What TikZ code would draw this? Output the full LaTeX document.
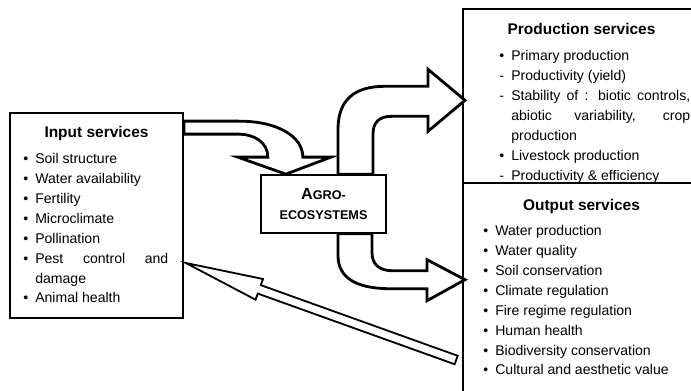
\documentclass[tikz,border=0pt]{standalone}
\usepackage{fontspec}
\setmainfont{Liberation Sans}
\usetikzlibrary{calc}

\newlength{\itemind}
\setlength{\itemind}{3mm}
\newcommand{\svc}[1]{\par\hangindent=\itemind\hangafter=1\noindent\strut\makebox[\itemind][l]{\textbullet}#1}
\newcommand{\svcdash}[1]{\par\hangindent=\itemind\hangafter=1\noindent\strut\makebox[\itemind][l]{-}#1}

\begin{document}
\begin{tikzpicture}[
    x=0.25mm, y=-0.25mm,
    box/.style={rectangle, draw, line width=1.2pt, inner sep=0pt},
    boxtitle/.style={anchor=base, inner sep=0pt, font=\fontsize{11}{13}\selectfont\bfseries},
    listtext/.style={anchor=north west, inner sep=0pt, align=justify,
      font={\fontsize{10}{14.2}\selectfont\hyphenpenalty=10000 \tolerance=10000 }},
    hollow/.style={draw, fill=white, line width=2pt, line join=miter},
    thinhollow/.style={hollow, line width=1.3pt}
  ]
    \useasboundingbox (0,0) rectangle (691,390);

    % boxes
    \node[box, minimum width=43.25mm, minimum height=51.25mm] (input) at (96.5,215.5) {};
    \node[box, minimum width=59.25mm, minimum height=43.5mm] (prod) at (581.5,96) {};
    \node[box, minimum width=59.25mm, minimum height=54.25mm] (output) at (581.5,291.5) {};
    \node[box, line width=1pt, minimum width=31.25mm, minimum height=14.5mm, align=center,
      font={\fontsize{9}{14.2}\selectfont\bfseries}] (agro) at (323.5,204)
      {{\fontsize{11.5}{14.2}\selectfont A}GRO-\\ECOSYSTEMS};

    % input -> agro
    \begin{scope}[shift={(input.north east)}]
      \draw[hollow] (0,9) -- (55,9) .. controls (95,9) and (119,25) .. (119,45)
        -- (147,45) -- (102,62) -- (54,45) -- (84,45)
        .. controls (84,30) and (70,22) .. (55,22) -- (0,22) -- cycle;
    \end{scope}
    % agro -> production
    \begin{scope}[shift={(agro.north)}]
      \draw[hollow] (14.5,0) -- (14.5,-45) .. controls (14.5,-75) and (31.5,-88) .. (61.5,-88)
        -- (104.5,-88) -- (104.5,-105) -- (141.5,-74) -- (104.5,-43) -- (104.5,-58)
        -- (68.5,-58) .. controls (55.5,-58) and (49.5,-52) .. (49.5,-40) -- (49.5,0) -- cycle;
    \end{scope}
    % agro -> output
    \begin{scope}[shift={(agro.south)}]
      \draw[hollow] (14.5,0) -- (14.5,22) .. controls (14.5,45) and (34.5,55) .. (66.5,55)
        -- (103.5,55) -- (103.5,67) -- (141.5,46) -- (103.5,26) -- (103.5,37)
        -- (68.5,37) .. controls (56.5,37) and (48.5,31) .. (48.5,19) -- (48.5,0) -- cycle;
    \end{scope}
    % output -> input (feedback)
    \coordinate (back) at ($(output.west)+(-6,68.5)$);
    \coordinate (front) at ($(input.east)+(2,47.5)$);
    \coordinate (hb) at ($(front)!19.5mm!(back)$);
    \draw[thinhollow] ($(back)!1.125mm!90:(front)$) -- ($(hb)!1.125mm!-90:(back)$)
      -- ($(hb)!2.75mm!-90:(back)$) -- (front) -- ($(hb)!2.75mm!90:(back)$)
      -- ($(hb)!1.125mm!90:(back)$) -- ($(back)!1.125mm!-90:(front)$) -- cycle;

    % texts
    \node[boxtitle] (inputtitle) at (96.5,138) {Input services};
    \node[listtext, text width=36.25mm] (inputlist) at (23,143)
      {\svc{Soil structure}\svc{Water availability}\svc{Fertility}\svc{Microclimate}%
       \svc{Pollination}\svc{Pest control and damage}\svc{Animal health}};

    \node[boxtitle] (prodtitle) at (581.5,35) {Production services};
    \node[listtext, text width=47.75mm] (prodlist) at (499,40)
      {\svc{Primary production}\svcdash{Productivity (yield)}%
       \svcdash{Stability of : biotic controls, abiotic variability, crop production}%
       \svc{Livestock production}\svcdash{Productivity \& efficiency}};

    \node[boxtitle] (outputtitle) at (581.5,210) {Output services};
    \node[listtext, text width=50mm] (outputlist) at (483,215)
      {\svc{Water production}\svc{Water quality}\svc{Soil conservation}\svc{Climate regulation}%
       \svc{Fire regime regulation}\svc{Human health}\svc{Biodiversity conservation}%
       \svc{Cultural and aesthetic value}};
  \end{tikzpicture}
\end{document}
